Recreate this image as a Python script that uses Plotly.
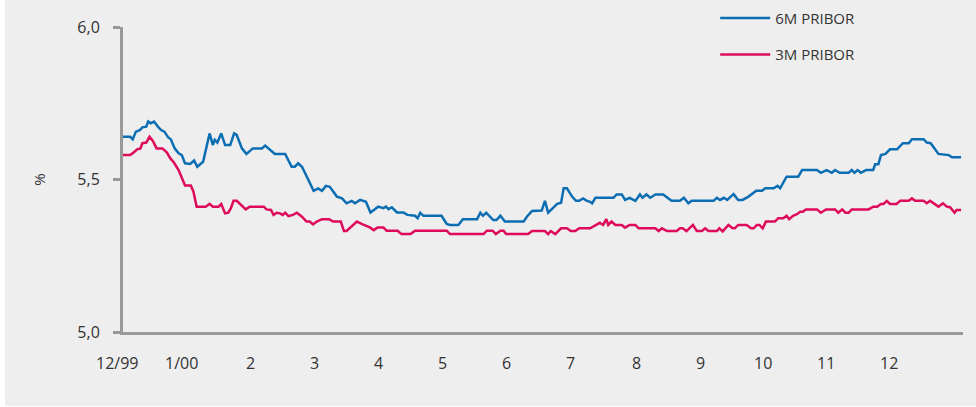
import plotly.graph_objects as go

# x positions are in months since the start of December 1999
t_6m = [0.00, 0.11, 0.15, 0.20, 0.26, 0.30, 0.36, 0.39, 0.43, 0.48, 0.55, 0.59, 0.64, 0.70, 0.74,
        0.80, 0.86, 0.91, 0.96, 1.04, 1.10, 1.15, 1.24, 1.28, 1.34, 1.39, 1.42, 1.46, 1.52, 1.58,
        1.66, 1.72, 1.76, 1.84, 1.91, 2.01, 2.15, 2.20, 2.28, 2.35, 2.51, 2.61, 2.66, 2.71, 2.77,
        2.87, 2.95, 3.02, 3.08, 3.14, 3.20, 3.31, 3.39, 3.46, 3.54, 3.59, 3.67, 3.76, 3.83, 3.95,
        4.03, 4.07, 4.11, 4.16, 4.24, 4.34, 4.40, 4.52, 4.56, 4.60, 4.65, 4.93, 5.01, 5.06, 5.19,
        5.26, 5.48, 5.53, 5.57, 5.62, 5.73, 5.78, 5.84, 5.91, 6.20, 6.25, 6.33, 6.48, 6.53, 6.58,
        6.66, 6.72, 6.78, 6.82, 6.87, 6.95, 7.01, 7.06, 7.12, 7.18, 7.23, 7.26, 7.31, 7.59, 7.64,
        7.72, 7.77, 7.84, 7.93, 8.00, 8.04, 8.10, 8.16, 8.24, 8.36, 8.49, 8.62, 8.68, 8.75, 8.80,
        9.14, 9.19, 9.24, 9.30, 9.35, 9.45, 9.52, 9.59, 9.68, 9.80, 9.89, 9.94, 10.07, 10.13, 10.17,
        10.27, 10.45, 10.51, 10.74, 10.80, 10.89, 10.97, 11.02, 11.09, 11.23, 11.28, 11.32, 11.37,
        11.42, 11.50, 11.61, 11.64, 11.69, 11.73, 11.80, 11.87, 11.98, 12.07, 12.16, 12.21, 12.39,
        12.44, 12.50, 12.54, 12.62, 12.78, 12.83, 12.97]
pribor_6m = [5.640, 5.640, 5.632, 5.657, 5.662, 5.671, 5.673, 5.690, 5.684, 5.690, 5.671, 5.662, 5.657, 5.638, 5.632,
             5.602, 5.586, 5.580, 5.553, 5.551, 5.562, 5.542, 5.558, 5.597, 5.651, 5.613, 5.630, 5.621, 5.651, 5.613,
             5.613, 5.651, 5.646, 5.602, 5.584, 5.602, 5.602, 5.611, 5.597, 5.584, 5.584, 5.542, 5.542, 5.553, 5.542,
             5.498, 5.463, 5.471, 5.463, 5.479, 5.476, 5.444, 5.438, 5.422, 5.430, 5.422, 5.433, 5.427, 5.392, 5.411,
             5.406, 5.411, 5.403, 5.409, 5.392, 5.392, 5.384, 5.381, 5.373, 5.391, 5.381, 5.381, 5.354, 5.351, 5.351,
             5.370, 5.370, 5.391, 5.381, 5.391, 5.367, 5.367, 5.381, 5.362, 5.362, 5.378, 5.397, 5.398, 5.430, 5.391,
             5.406, 5.420, 5.424, 5.471, 5.471, 5.444, 5.430, 5.430, 5.438, 5.430, 5.427, 5.422, 5.440, 5.440, 5.451,
             5.451, 5.433, 5.440, 5.430, 5.451, 5.440, 5.451, 5.440, 5.451, 5.451, 5.430, 5.430, 5.440, 5.422, 5.430,
             5.430, 5.440, 5.433, 5.440, 5.433, 5.452, 5.433, 5.433, 5.444, 5.463, 5.463, 5.471, 5.471, 5.479, 5.471,
             5.509, 5.509, 5.531, 5.531, 5.522, 5.531, 5.522, 5.531, 5.522, 5.522, 5.531, 5.522, 5.531,
             5.522, 5.531, 5.531, 5.550, 5.550, 5.580, 5.584, 5.599, 5.599, 5.619, 5.619, 5.632, 5.632,
             5.621, 5.619, 5.606, 5.584, 5.580, 5.573, 5.573]

t_3m = [0.00, 0.11, 0.16, 0.22, 0.27, 0.30, 0.36, 0.41, 0.46, 0.52, 0.61, 0.68, 0.73, 0.79, 0.86,
        0.91, 0.96, 1.05, 1.09, 1.14, 1.28, 1.34, 1.39, 1.48, 1.52, 1.58, 1.63, 1.67, 1.71, 1.76,
        1.84, 1.90, 1.96, 2.18, 2.22, 2.29, 2.33, 2.38, 2.43, 2.47, 2.51, 2.56, 2.63, 2.69, 2.77,
        2.84, 2.89, 2.94, 3.00, 3.08, 3.19, 3.25, 3.37, 3.42, 3.46, 3.62, 3.70, 3.77, 3.82, 3.88,
        3.94, 4.03, 4.08, 4.25, 4.31, 4.45, 4.52, 5.01, 5.06, 5.58, 5.63, 5.72, 5.77, 5.84, 5.89,
        5.93, 6.27, 6.33, 6.53, 6.58, 6.62, 6.69, 6.78, 6.87, 6.93, 7.00, 7.06, 7.23, 7.31, 7.38,
        7.43, 7.48, 7.51, 7.56, 7.62, 7.72, 7.77, 7.84, 7.93, 7.98, 8.24, 8.29, 8.34, 8.42, 8.57,
        8.62, 8.66, 8.72, 8.82, 8.88, 8.96, 9.01, 9.06, 9.19, 9.23, 9.28, 9.37, 9.43, 9.47, 9.52,
        9.65, 9.72, 9.76, 9.81, 9.85, 9.90, 9.95, 10.09, 10.14, 10.22, 10.27, 10.31, 10.37, 10.43,
        10.48, 10.52, 10.57, 10.74, 10.80, 10.88, 11.02, 11.07, 11.13, 11.18, 11.23, 11.28, 11.54,
        11.61, 11.67, 11.73, 11.77, 11.82, 11.87, 11.97, 12.03, 12.16, 12.21, 12.26, 12.39, 12.44,
        12.49, 12.54, 12.62, 12.69, 12.75, 12.80, 12.87, 12.90, 12.97]
pribor_3m = [5.580, 5.580, 5.588, 5.599, 5.602, 5.619, 5.621, 5.640, 5.627, 5.602, 5.602, 5.588, 5.570, 5.555, 5.531,
             5.507, 5.480, 5.480, 5.460, 5.411, 5.411, 5.420, 5.411, 5.411, 5.420, 5.389, 5.391, 5.406, 5.430, 5.430,
             5.413, 5.402, 5.411, 5.411, 5.402, 5.400, 5.384, 5.391, 5.389, 5.384, 5.391, 5.380, 5.384, 5.391, 5.378,
             5.362, 5.362, 5.353, 5.362, 5.370, 5.370, 5.362, 5.362, 5.331, 5.331, 5.362, 5.354, 5.349, 5.343, 5.334,
             5.343, 5.343, 5.332, 5.332, 5.321, 5.321, 5.332, 5.332, 5.321, 5.321, 5.332, 5.332, 5.321, 5.332, 5.332,
             5.321, 5.321, 5.331, 5.331, 5.321, 5.331, 5.321, 5.340, 5.340, 5.331, 5.331, 5.340, 5.340, 5.351, 5.358,
             5.351, 5.370, 5.351, 5.362, 5.351, 5.351, 5.342, 5.351, 5.351, 5.340, 5.340, 5.331, 5.340, 5.331, 5.331,
             5.340, 5.340, 5.331, 5.351, 5.331, 5.331, 5.340, 5.331, 5.331, 5.340, 5.330, 5.351, 5.341, 5.340, 5.351,
             5.351, 5.340, 5.340, 5.351, 5.351, 5.340, 5.362, 5.362, 5.373, 5.373, 5.381, 5.370, 5.381, 5.386,
             5.394, 5.394, 5.402, 5.402, 5.391, 5.402, 5.402, 5.391, 5.402, 5.391, 5.391, 5.402, 5.402,
             5.411, 5.411, 5.420, 5.420, 5.430, 5.420, 5.420, 5.430, 5.430, 5.438, 5.430, 5.430, 5.422,
             5.430, 5.422, 5.411, 5.422, 5.411, 5.409, 5.391, 5.400, 5.400]

month_labels = ["12/99", "1/00", "2", "3", "4", "5", "6", "7", "8", "9", "10", "11", "12"]
month_label_pos = [0.0, 0.91, 1.98, 2.97, 3.96, 4.95, 5.94, 6.93, 7.94, 8.93, 9.91, 10.88, 11.86]
month_label_shift = [-6, 0, 0, 0, 0, 0, 0, 0, 0, 0, 0, 0, 0]
y_ticks = [5.0, 5.5, 6.0]
y_tick_text = ["5,0", "5,5", "6,0"]

BLUE = "#0b6db2"
RED = "#de0b5b"
FONT = "Open Sans"
TXT = "#333333"

fig = go.Figure()
fig.add_trace(go.Scatter(x=t_6m, y=pribor_6m, mode="lines", name="6M PRIBOR",
                         line=dict(color=BLUE, width=2.5), legendgroup="a"))
fig.add_trace(go.Scatter(x=t_3m, y=pribor_3m, mode="lines", name="3M PRIBOR",
                         line=dict(color=RED, width=2.5), legendgroup="b"))

for lab, pos, sh in zip(month_labels, month_label_pos, month_label_shift):
    fig.add_annotation(x=pos, y=-0.102, xref="x", yref="paper", text=lab, showarrow=False,
                       xshift=sh, xanchor="center", yanchor="middle",
                       font=dict(family=FONT, size=16, color=TXT))

fig.add_annotation(x=-0.101, y=0.5, xref="paper", yref="paper", text="%", textangle=-90,
                   showarrow=False, xanchor="center", yanchor="middle",
                   font=dict(family=FONT, size=15, color=TXT))

fig.update_layout(
    width=976, height=407,
    margin=dict(l=123, r=13, t=27, b=75, autoexpand=False),
    paper_bgcolor="#ffffff",
    plot_bgcolor="rgba(0,0,0,0)",
    font=dict(family=FONT, size=15, color=TXT),
    showlegend=True,
    legend=dict(x=0.705, y=1.083, xanchor="left", yanchor="top", bgcolor="rgba(0,0,0,0)",
                tracegroupgap=14, itemwidth=50, font=dict(family=FONT, size=15, color=TXT)),
    xaxis=dict(range=[0, 13.0], showgrid=False, zeroline=False, showticklabels=False,
               ticks="", showline=True, linecolor="#999999", linewidth=3, fixedrange=True,
               automargin=False),
    yaxis=dict(range=[5.0, 6.0], tickvals=y_ticks, ticktext=y_tick_text, showgrid=False,
               zeroline=False, ticks="outside", ticklen=7, tickwidth=3, tickcolor="#999999",
               showline=True, linecolor="#999999", linewidth=3, ticklabelstandoff=10,
               automargin=False, tickfont=dict(family=FONT, size=16, color=TXT)),
    shapes=[dict(type="rect", xref="paper", yref="paper", x0=-118 / 840, x1=1 + 13 / 840,
                 y0=-74 / 305, y1=1 + 27 / 305, fillcolor="#eeeeee", line=dict(width=0), layer="below")],
)

fig.write_html("out.html", config={"displayModeBar": False, "staticPlot": True},
               post_script="document.body.style.margin='0';document.body.style.padding='0';")
